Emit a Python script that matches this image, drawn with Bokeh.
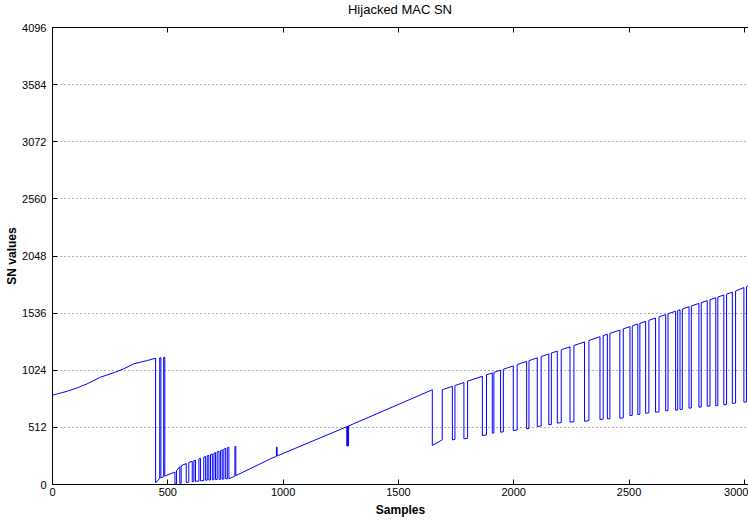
from bokeh.plotting import figure
from bokeh.layouts import column
from bokeh.models import Range1d, FixedTicker, LinearAxis, ColumnDataSource, CustomLabelingPolicy, Div
from bokeh.embed import file_html
from bokeh.resources import INLINE

# ---- data ----
title_text = "Hijacked MAC SN"
x_ticks = [0, 500, 1000, 1500, 2000, 2500, 3000]
y_ticks = [0, 512, 1024, 1536, 2048, 2560, 3072, 3584, 4096]

# initial legitimate ramp
ramp1_x = [0, 64, 107, 150, 208, 273, 309, 353, 411, 447]
ramp1_y = [800, 836, 866, 902, 962, 1007, 1037, 1082, 1111, 1132]

# switch-over spikes
switch_x = [447, 465, 465, 470, 470, 482, 482, 487, 487, 531]
switch_y = [15, 55, 1136, 1136, 60, 70, 1139, 1139, 75, 112]

# cluster of alternating pulses (edge position, level before, level after)
cluster_x = [531, 538, 552, 558, 580, 591, 606, 613, 620, 635, 642, 656, 664, 671,
             678, 685, 693, 700, 707, 714, 722, 729, 736, 743, 751, 758, 765]
cluster_from = [112, 7, 160, 12, 188, 21, 208, 27, 219, 31, 235, 36, 251, 39,
                262, 41, 274, 43, 286, 45, 299, 47, 311, 49, 324, 50, 335]
cluster_to = [5, 125, 10, 168, 18, 198, 25, 214, 28, 230, 33, 245, 38, 257,
              40, 268, 42, 280, 44, 292, 46, 305, 48, 317, 50, 329, 51]

# second ramp with small spikes
ramp2_x = [791, 791, 795, 795, 945, 971, 971, 974, 974, 1276, 1276, 1279, 1279,
           1281, 1281, 1284, 1284, 1647]
ramp2_y = [75, 341, 341, 79, 230, 253, 335, 335, 256, 518, 345, 346, 521,
           523, 345, 346, 525, 849]

# dips of the right part
dip_x0 = [1647, 1734, 1784, 1864, 1907, 1943, 1998, 2056, 2102, 2152, 2189, 2244, 2307, 2374,
          2406, 2460, 2504, 2538, 2572, 2615, 2659, 2702, 2721, 2760, 2803, 2839, 2876, 2911,
          2948, 2998]
dip_x1 = [1690, 1745, 1800, 1882, 1914, 1955, 2015, 2066, 2119, 2163, 2206, 2261, 2326, 2388,
          2417, 2475, 2514, 2547, 2586, 2630, 2669, 2711, 2731, 2770, 2813, 2851, 2885, 2923,
          2962, 3009]
top0 = [849, 880, 914, 970, 1000, 1025, 1063, 1103, 1135, 1170, 1196, 1234, 1278, 1325,
        1347, 1384, 1415, 1439, 1462, 1492, 1523, 1553, 1566, 1593, 1623, 1648, 1674, 1698,
        1724, 1765]
top1 = [849, 887, 926, 983, 1005, 1033, 1075, 1110, 1147, 1178, 1208, 1246, 1291, 1334,
        1355, 1395, 1422, 1445, 1472, 1503, 1530, 1559, 1573, 1600, 1630, 1656, 1680, 1706,
        1734, 1772]
bot0 = [350, 400, 409, 439, 460, 469, 484, 499, 520, 535, 550, 559, 567, 583,
        588, 594, 618, 627, 639, 648, 660, 666, 672, 684, 693, 702, 706, 714, 726, 738]
bot1 = [400, 404, 414, 444, 462, 472, 489, 502, 525, 538, 555, 563, 572, 586,
        590, 598, 620, 629, 642, 651, 662, 668, 674, 686, 695, 704, 708, 717, 730, 740]
end_x = [3020]
end_y = [1785]

# ---- assemble the polyline ----
xs, ys = list(ramp1_x), list(ramp1_y)
xs += switch_x
ys += switch_y
for x, a, b in zip(cluster_x, cluster_from, cluster_to):
    xs += [x, x]
    ys += [a, b]
xs += ramp2_x
ys += ramp2_y
for a0, a1, t0, t1, b0, b1 in zip(dip_x0, dip_x1, top0, top1, bot0, bot1):
    xs += [a0, a0, a1, a1]
    ys += [t0, b0, b1, t1]
xs += end_x
ys += end_y

src = ColumnDataSource(dict(x=xs, y=ys))

FONT = "Liberation Sans"
TITLE_H = 20

title_div = Div(text=title_text, width=696, height=TITLE_H, margin=(0, 0, 0, 52),
                styles={"font-family": FONT, "font-size": "13px", "color": "black",
                        "text-align": "center", "line-height": f"{TITLE_H}px",
                        "white-space": "nowrap", "width": "696px"})

p = figure(width=748, height=520 - TITLE_H, output_backend="svg", toolbar_location=None,
           x_range=Range1d(0, 3018), y_range=Range1d(0, 4096),
           min_border_left=52, min_border_right=0, min_border_top=27 - TITLE_H,
           min_border_bottom=36, margin=(0, 0, 0, 0))
p.outline_line_color = None
p.background_fill_color = "white"
p.border_fill_color = "white"

p.line("x", "y", source=src, line_color="#0000ff", line_width=1)

for ax in (p.xaxis[0], p.yaxis[0]):
    ax.major_tick_in = 5
    ax.major_tick_out = 0
    ax.minor_tick_line_color = None
    ax.axis_line_color = "black"
    ax.axis_line_width = 1
    ax.major_tick_line_color = "black"
    ax.major_label_text_font = FONT
    ax.major_label_text_font_size = "11px"
    ax.major_label_text_color = "black"
    ax.axis_label_text_font = FONT
    ax.axis_label_text_font_size = "12px"
    ax.axis_label_text_font_style = "bold"
    ax.axis_label_text_color = "black"

p.xaxis[0].ticker = FixedTicker(ticks=x_ticks)
p.yaxis[0].ticker = FixedTicker(ticks=y_ticks)
p.xaxis[0].axis_label = "Samples"
p.yaxis[0].axis_label = "SN values"
p.xaxis[0].major_label_standoff = 3
p.yaxis[0].major_label_standoff = 6
p.xaxis[0].axis_label_standoff = 4
p.yaxis[0].axis_label_standoff = 0

top_ax = LinearAxis(ticker=FixedTicker(ticks=x_ticks))
top_ax.major_tick_in = 5
top_ax.major_tick_out = 0
top_ax.minor_tick_line_color = None
top_ax.major_label_text_font_size = "0px"
top_ax.major_label_policy = CustomLabelingPolicy(code="return []")
top_ax.major_label_standoff = 0
top_ax.axis_line_color = "black"
p.add_layout(top_ax, "above")

p.xgrid.grid_line_color = None
p.ygrid.ticker = FixedTicker(ticks=y_ticks)
p.ygrid.grid_line_color = "#666666"
p.ygrid.grid_line_dash = "1 3"
p.ygrid.grid_line_width = 1

layout = column(title_div, p, spacing=0, margin=(0, 0, 0, 0))
open("out.html", "w").write(file_html(layout, INLINE))
